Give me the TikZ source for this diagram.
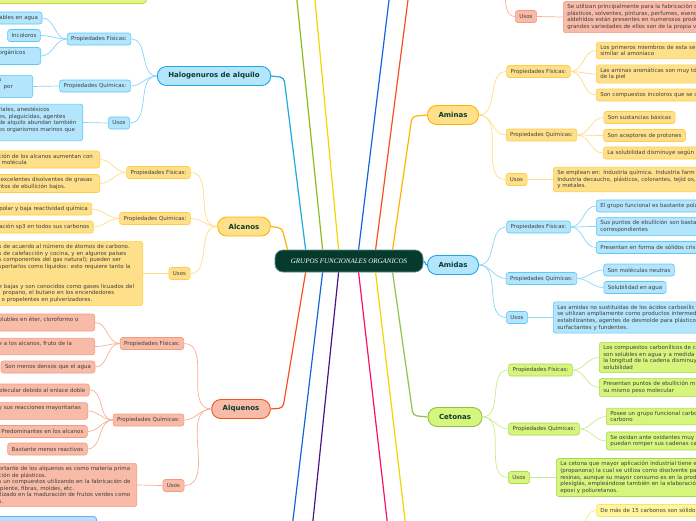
\documentclass[tikz,border=0pt]{standalone}
\usepackage{fontspec}
\setsansfont{DejaVu Sans}
\newfontfamily\titlefont{Liberation Serif}
\usepackage{tikz}
\usetikzlibrary{shapes,arrows,positioning,calc}

\definecolor{titlefill}{HTML}{063B2C}
\definecolor{titleedge}{HTML}{5C8A9A}
\definecolor{topictext}{HTML}{0B3B2E}
\definecolor{leaftext}{HTML}{3F3F3F}
\definecolor{cyfill}{HTML}{B3E5FC}
\definecolor{cydraw}{HTML}{5CC8F5}
\definecolor{cyline}{HTML}{1DA8E8}
\definecolor{cylink}{HTML}{8AD4F6}
\definecolor{orfill}{HTML}{FFE08A}
\definecolor{ordraw}{HTML}{FFCC44}
\definecolor{orline}{HTML}{FFB300}
\definecolor{orlink}{HTML}{FFDC85}
\definecolor{safill}{HTML}{F8BBA8}
\definecolor{sadraw}{HTML}{F49A7C}
\definecolor{saline}{HTML}{F4511E}
\definecolor{salink}{HTML}{F8AE96}
\definecolor{grfill}{HTML}{D6F57D}
\definecolor{grdraw}{HTML}{A8D84A}
\definecolor{grline}{HTML}{8BC34A}
\definecolor{grlink}{HTML}{CDE98E}
\definecolor{yefill}{HTML}{FFF59D}
\definecolor{yedraw}{HTML}{FDE36B}
\definecolor{yelink}{HTML}{FDE68A}
\definecolor{limefill}{HTML}{E6F28C}
\definecolor{limedraw}{HTML}{C5DA3C}
\definecolor{bluefill}{HTML}{BBDEFB}
\definecolor{bluedraw}{HTML}{64B5F6}
\definecolor{mgreen}{HTML}{8DBB1E}
\definecolor{myellow}{HTML}{F2D600}
\definecolor{mblue}{HTML}{1565D8}
\definecolor{mred}{HTML}{F4511E}
\definecolor{mpurple}{HTML}{4A1486}
\definecolor{mpink}{HTML}{F8106E}

\begin{document}
\begin{tikzpicture}[x=1pt, y=-1pt,
    title/.style={rectangle, rounded corners=8pt, fill=titlefill, draw=titleedge, line width=0.8pt, text=white, font=\titlefont\itshape\fontsize{7}{9}\selectfont, minimum width=148pt, minimum height=22pt},
    topic/.style={rectangle, rounded corners=9pt, line width=0.9pt, font=\sffamily\bfseries\fontsize{7}{8}\selectfont, text=topictext, minimum height=19pt, inner xsep=11pt},
    prop/.style={rectangle, rounded corners=2.5pt, line width=0.6pt, font=\sffamily\fontsize{5.5}{6.6}\selectfont, text=leaftext, minimum height=12pt, inner xsep=4pt, inner ysep=2pt},
    leaf/.style={prop, align=left, inner ysep=3pt},
    cutleaf/.style={prop, anchor=west, inner ysep=3pt},
    cy/.style={fill=cyfill, draw=cydraw}, cytop/.style={fill=cyfill, draw=cyline},
    or/.style={fill=orfill, draw=ordraw}, ortop/.style={fill=orfill, draw=orline},
    sa/.style={fill=safill, draw=sadraw}, satop/.style={fill=safill, draw=saline},
    gr/.style={fill=grfill, draw=grdraw}, grtop/.style={fill=grfill, draw=grline},
    ye/.style={fill=yefill, draw=yedraw},
    link/.style={line width=0.7pt},
    branch/.style={line width=1.2pt, rounded corners=4pt}]
    \useasboundingbox (0,0) rectangle (696,520);
    \clip (0,0) rectangle (696,520);

    % Center and topics
    \node (gfo) [title] at (349,261) {GRUPOS FUNCIONALES ORGANICOS};
    \node (hal) [topic, cytop] at (214,76) {Halogenuros de alquilo};
    \node (alc) [topic, ortop] at (244,226.5) {Alcanos};
    \node (alq) [topic, satop] at (241,409) {Alquenos};
    \node (ami) [topic, ortop] at (453,115) {Aminas};
    \node (amd) [topic, cytop] at (453,265) {Amidas};
    \node (cet) [topic, grtop] at (455,417) {Cetonas};

    % Boxes cut by the edges
    \node (tl) [rectangle, rounded corners=4pt, fill=limefill, draw=limedraw, line width=0.8pt, anchor=south east, minimum width=170pt, minimum height=20pt] at (147,4) {};
    \node (bl) [rectangle, rounded corners=3pt, fill=bluefill, draw=bluedraw, line width=0.8pt, anchor=north east, minimum width=110pt, minimum height=20pt] at (97,516) {};

    % Halogenuros de alquilo
    \node (hfis) [prop, cy] at (99,39) {Propiedades Físicas:};
    \node (hqui) [prop, cy] at (95,86) {Propiedades Químicas:};
    \node (husos) [prop, cy] at (119,123) {Usos};
    \node (h1) [cutleaf, cy] at (-5,18) {ables en agua};
    \node (h2) [prop, cy] at (24,35.5) {Incoloros};
    \node (h3) [leaf, cy, anchor=east, text width=38pt] at (41,56) {orgánicos\\\mbox{}};
    \node (hq1) [leaf, cy, anchor=east, text width=30pt] at (33,86.5) {s\\\hspace*{5pt}por\\\mbox{}};
    \node (hu1) [leaf, cy, anchor=east, text width=80pt] at (83,122.5) {riales, anestésicos\\es, plaguicidas, agentes\\de alquilo abundan también\\os organismos marinos que\\\mbox{}};

    % Alcanos
    \node (afis) [prop, or] at (158.5,172.5) {Propiedades Físicas:};
    \node (aqui) [prop, or] at (155,218.5) {Propiedades Químicas:};
    \node (ausos) [prop, or] at (179.5,273.5) {Usos};
    \node (af1) [leaf, or, anchor=east, text width=97pt] at (100,159.5) {ción de los alcanos aumentan con\\\hspace*{3pt}molécula};
    \node (af2) [leaf, or, anchor=east, text width=97pt] at (100,183.5) {\hspace*{2pt}excelentes disolventes de grasas\\ntos de ebullición bajos.};
    \node (aq1) [cutleaf, or] at (-5,209) {polar y baja reactividad química};
    \node (aq2) [cutleaf, or] at (-5,227) {ación sp3 en todos sus carbonos};
    \node (au1) [leaf, or, anchor=east, text width=140pt] at (143,273.5) {s de acuerdo al número de átomos de carbono.\\s de calefacción y cocina, y en algunos países\\s componentes del gas natural); pueden ser\\sportarlos como líquidos: esto requiere tanto la\\\mbox{}\\\mbox{}\\e bajas y son conocidos como gases licuados del\\\hspace*{4pt}propano, el butano en los encendedores\\\hspace*{3pt}o propelentes en pulverizadores.};

    % Alquenos
    \node (qfis) [prop, sa] at (152,343.5) {Propiedades Físicas:};
    \node (qqui) [prop, sa] at (148.5,420) {Propiedades Químicas:};
    \node (qusos) [prop, sa] at (173.5,485.5) {Usos};
    \node (qf1) [leaf, sa, anchor=east, text width=92pt] at (95,322.5) {olubles en éter, cloroformo o\\\mbox{}};
    \node (qf2) [leaf, sa, anchor=east, text width=92pt] at (95,346.5) {e a los alcanos, fruto de la\\\mbox{}};
    \node (qf3) [prop, sa] at (48,367) {Son menos densos que el agua};
    \node (qq1) [cutleaf, sa] at (-5,390) {olecular debido al enlace doble};
    \node (qq2) [leaf, sa, anchor=east, text width=85pt] at (88,411) {y sus reacciones mayoritarias\\\mbox{}};
    \node (qq3) [cutleaf, sa] at (-3,431.5) {Predominantes en los alcanos};
    \node (qq4) [prop, sa] at (47.5,449) {Bastante menos reactivos};
    \node (qu1) [leaf, sa, anchor=east, text width=134pt] at (137,485) {ortante de los alquenos es como materia prima\\ción de plásticos.\\s un compuestos utilizando en la fabricación de\\ipiente, fibras, moldes, etc.\\ilizado en la maduración de frutos verdes como\\s.};

    % Usos (top right)
    \node (rusos) [prop, sa] at (526,16.5) {Usos};
    \node (ru1) [leaf, sa, anchor=west, text width=200pt] at (563,17) {Se utilizan principalmente para la fabricación d\\plásticos, solventes, pinturas, perfumes, esenc\\aldehídos están presentes en numerosos produ\\grandes variedades de ellos son de la propia v};

    % Aminas
    \node (mfis) [prop, or] at (538.5,71.5) {Propiedades Físicas:};
    \node (mqui) [prop, or] at (541.5,135) {Propiedades Químicas:};
    \node (musos) [prop, or] at (516.5,179.5) {Usos};
    \node (mf1) [leaf, or, anchor=west, text width=120pt] at (596,50.5) {Los primeros miembros de esta se\\similar al amoníaco};
    \node (mf2) [leaf, or, anchor=west, text width=120pt] at (596,74) {Las aminas aromáticas son muy tó\\de la piel};
    \node (mf3) [leaf, or, anchor=west, text width=120pt] at (596,95) {Son compuestos incoloros que se c};
    \node (mq1) [prop, or] at (639.5,117.5) {Son sustancias básicas};
    \node (mq2) [prop, or] at (644.5,135.5) {Son aceptores de protones};
    \node (mq3) [leaf, or, anchor=west, text width=120pt] at (603,153) {La solubilidad disminuye según};
    \node (mu1) [leaf, or, anchor=west, text width=160pt] at (553,179.5) {Se emplean en: Industria química. Industria farm\\Industria decaucho, plásticos, colorantes, tejid os,\\y metales.};

    % Amidas
    \node (dfis) [prop, cy] at (538.5,227) {Propiedades Físicas:};
    \node (dqui) [prop, cy] at (541.5,278.5) {Propiedades Químicas:};
    \node (dusos) [prop, cy] at (517,317.5) {Usos};
    \node (df1) [leaf, cy, anchor=west, text width=120pt] at (596,206) {El grupo funcional es bastante pola};
    \node (df2) [leaf, cy, anchor=west, text width=120pt] at (596,226.5) {Sus puntos de ebullición son basta\\correspondientes};
    \node (df3) [leaf, cy, anchor=west, text width=120pt] at (596,247.5) {Presentan en forma de sólidos cris};
    \node (dq1) [prop, cy] at (639,270) {Son moléculas neutras};
    \node (dq2) [prop, cy] at (635,287.5) {Solubilidad en agua};
    \node (du1) [leaf, cy, anchor=west, text width=160pt] at (553,317.5) {Las amidas no sustituidas de los ácidos carboxílic\\se utilizan ampliamente como productos intermed\\estabilizantes, agentes de desmolde para plástico\\surfactantes y fundentes.};

    % Cetonas
    \node (cfis) [prop, gr] at (540.5,370) {Propiedades Físicas:};
    \node (cqui) [prop, gr] at (544,429) {Propiedades Químicas:};
    \node (cusos) [prop, gr] at (519,477.5) {Usos};
    \node (cf1) [leaf, gr, anchor=west, text width=120pt] at (599,357.5) {Los compuestos carbonílicos de c\\son solubles en agua y a medida\\la longitud de la cadena disminuy\\solubilidad};
    \node (cf2) [leaf, gr, anchor=west, text width=120pt] at (599,387.5) {Presentan puntos de ebullición m\\su mismo peso molecular};
    \node (cq1) [leaf, gr, anchor=west, text width=120pt] at (606,416.5) {Posee un grupo funcional carbo\\carbono};
    \node (cq2) [leaf, gr, anchor=west, text width=120pt] at (606,441) {Se oxidan ante oxidantes muy\\puedan romper sus cadenas ca};
    \node (cu1) [leaf, gr, anchor=west, text width=160pt] at (556,477.5) {La cetona que mayor aplicación industrial tiene e\\(propanona) la cual se utiliza como disolvente pa\\resinas, aunque su mayor consumo es en la prod\\plexiglás, empleándose también en la elaboración\\epoxi y poliuretanos.};

    \node (ye1) [leaf, ye, anchor=west, text width=120pt] at (596,510.5) {De más de 15 carbonos son sólido};

    % Free ends off the page
    \coordinate (tg) at (296.5,-4);
    \coordinate (ty) at (314.6,-4);
    \coordinate (tb) at (389.5,-4);
    \coordinate (tr) at (408.5,-4);
    \coordinate (bb) at (292.5,524);
    \coordinate (bp) at (312.6,524);
    \coordinate (bk) at (387.5,524);
    \coordinate (by) at (405.5,524);
    \coordinate (ald) at (505,-4);
    \coordinate (yoff) at (584,526);

    % Branches
    \draw [branch, cyline] (hal.east) -- (284,77.5) -- ([xshift=31pt]gfo.north west);
    \draw [branch, orline] (alc.east) -- (282,228) -- ([xshift=13pt]gfo.north west);
    \draw [branch, saline] (alq.east) -- (283,408) -- ([xshift=31pt]gfo.south west);
    \draw [branch, orline] (ami.west) -- (412,116.5) -- ([xshift=118pt]gfo.north west);
    \draw [branch, grline] (cet.west) -- (413,415.5) -- ([xshift=118pt]gfo.south west);
    \draw [branch, cyline] (gfo.east) to[out=0,in=180] (amd.west);
    \draw [branch, mgreen] ([xshift=48pt]gfo.north west) -- (tg);
    \draw [branch, myellow] ([xshift=64pt]gfo.north west) -- (ty);
    \draw [branch, mblue] ([xshift=84pt]gfo.north west) -- (tb);
    \draw [branch, mred] ([xshift=101pt]gfo.north west) -- (tr);
    \draw [branch, mblue] ([xshift=48pt]gfo.south west) -- (bb);
    \draw [branch, mpurple] ([xshift=64pt]gfo.south west) -- (bp);
    \draw [branch, mpink] ([xshift=84pt]gfo.south west) -- (bk);
    \draw [branch, myellow] ([xshift=101pt]gfo.south west) -- (by);

    % Links
    \foreach \s in {hfis,hqui,husos} \draw [link, cylink] (hal.west) to[out=180,in=0] (\s.east);
    \foreach \s in {h1,h2,h3} \draw [link, cylink] (hfis.west) to[out=180,in=0] (\s.east);
    \draw [link, cylink] (hqui.west) -- (hq1.east);
    \draw [link, cylink] (husos.west) -- (hu1.east);

    \foreach \s in {afis,aqui,ausos} \draw [link, orlink] (alc.west) to[out=180,in=0] (\s.east);
    \foreach \s in {af1,af2} \draw [link, orlink] (afis.west) to[out=180,in=0] (\s.east);
    \foreach \s in {aq1,aq2} \draw [link, orlink] (aqui.west) to[out=180,in=0] (\s.east);
    \draw [link, orlink] (ausos.west) -- (au1.east);

    \foreach \s in {qfis,qqui,qusos} \draw [link, salink] (alq.west) to[out=180,in=0] (\s.east);
    \foreach \s in {qf1,qf2,qf3} \draw [link, salink] (qfis.west) to[out=180,in=0] (\s.east);
    \foreach \s in {qq1,qq2,qq3,qq4} \draw [link, salink] (qqui.west) to[out=180,in=0] (\s.east);
    \draw [link, salink] (qusos.west) -- (qu1.east);

    \draw [link, salink] (ald) to[out=-85,in=180] (rusos.west);
    \draw [link, salink] (rusos.east) -- (ru1.west);

    \foreach \s in {mfis,mqui,musos} \draw [link, orlink] (ami.east) to[out=0,in=180] (\s.west);
    \foreach \s in {mf1,mf2,mf3} \draw [link, orlink] (mfis.east) to[out=0,in=180] (\s.west);
    \foreach \s in {mq1,mq2,mq3} \draw [link, orlink] (mqui.east) to[out=0,in=180] (\s.west);
    \draw [link, orlink] (musos.east) -- (mu1.west);

    \foreach \s in {dfis,dqui,dusos} \draw [link, cylink] (amd.east) to[out=0,in=180] (\s.west);
    \foreach \s in {df1,df2,df3} \draw [link, cylink] (dfis.east) to[out=0,in=180] (\s.west);
    \foreach \s in {dq1,dq2} \draw [link, cylink] (dqui.east) to[out=0,in=180] (\s.west);
    \draw [link, cylink] (dusos.east) -- (du1.west);

    \foreach \s in {cfis,cqui,cusos} \draw [link, grlink] (cet.east) to[out=0,in=180] (\s.west);
    \foreach \s in {cf1,cf2} \draw [link, grlink] (cfis.east) to[out=0,in=180] (\s.west);
    \foreach \s in {cq1,cq2} \draw [link, grlink] (cqui.east) to[out=0,in=180] (\s.west);
    \draw [link, grlink] (cusos.east) -- (cu1.west);

    \draw [link, yelink] (ye1.west) to[out=180,in=75] (yoff);
\end{tikzpicture}
\end{document}
